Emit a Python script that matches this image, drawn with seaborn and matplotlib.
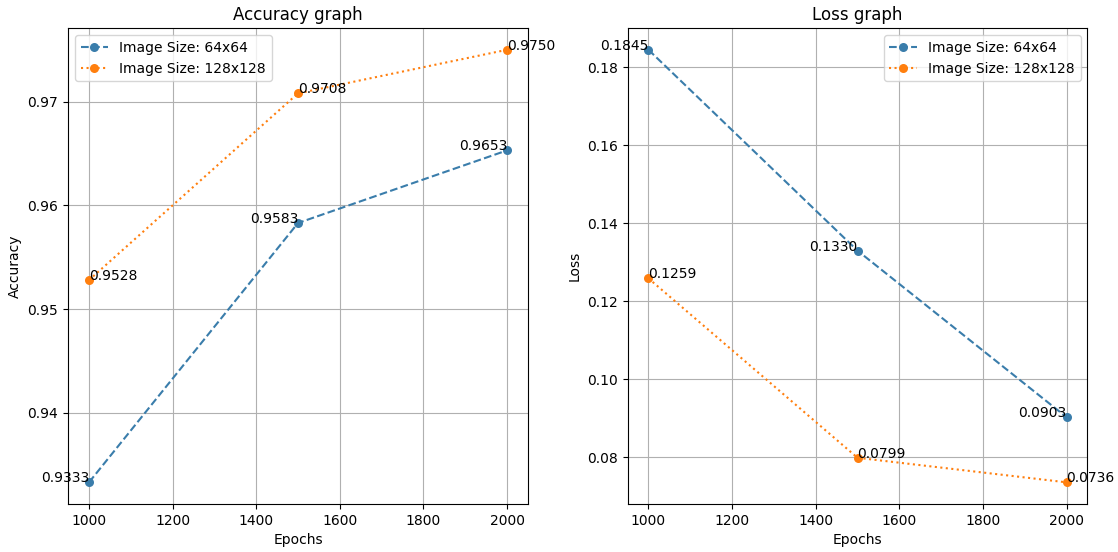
import matplotlib
matplotlib.use("Agg")
import matplotlib.pyplot as plt
import seaborn as sns

epochs = [1000, 1500, 2000]
acc_64 = [0.9333, 0.9583, 0.9653]
acc_128 = [0.9528, 0.9708, 0.9750]
loss_64 = [0.1845, 0.1330, 0.0903]
loss_128 = [0.1259, 0.0799, 0.0736]
label_64 = "Image Size: 64x64"
label_128 = "Image Size: 128x128"

blue = "#3a7dab"
orange = "#ff7f0e"

fig = plt.figure(figsize=(11.18, 5.52), dpi=100)
bottom, height = 0.087, 0.862
ax1 = fig.add_axes([0.0609, bottom, 0.4113, height])
ax2 = fig.add_axes([0.5613, bottom, 0.4114, height])

def draw(ax, y64, y128, title, ylabel, loc):
    sns.lineplot(x=epochs, y=y64, marker="o", linestyle="--", color=blue,
                 label=label_64, ax=ax, markeredgewidth=0, markersize=6.5)
    sns.lineplot(x=epochs, y=y128, marker="o", linestyle=":", color=orange,
                 label=label_128, ax=ax, markeredgewidth=0, markersize=6.5)
    for x, v in zip(epochs, y64):
        ax.text(x, v, f"{v:.4f}", ha="right", fontsize=10)
    for x, v in zip(epochs, y128):
        ax.text(x, v, f"{v:.4f}", ha="left", fontsize=10)
    ax.set_title(title, fontsize=12)
    ax.set_xlabel("Epochs")
    ax.set_ylabel(ylabel)
    ax.grid(True)
    ax.legend(loc=loc)

draw(ax1, acc_64, acc_128, "Accuracy graph", "Accuracy", "upper left")
draw(ax2, loss_64, loss_128, "Loss graph", "Loss", "upper right")

fig.savefig("out.png", dpi=100)
